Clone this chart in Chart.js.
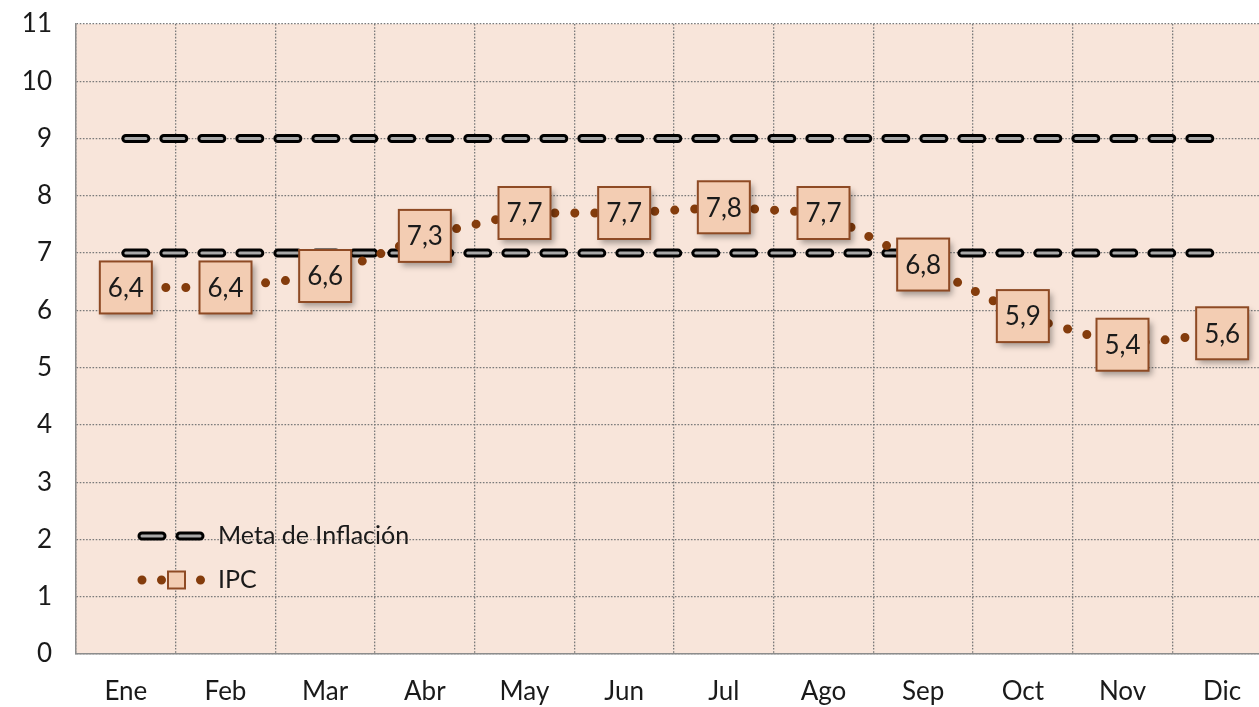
<!DOCTYPE html>
<html>
<head>
<meta charset="utf-8">
<script src="https://cdn.jsdelivr.net/npm/chart.js@4.4.1/dist/chart.umd.min.js"></script>
<style>
  html, body { margin: 0; padding: 0; background: #fff; overflow: hidden; }
  #wrap { width: 1272px; height: 707px; position: relative; }
</style>
</head>
<body>
<div id="wrap"><canvas id="line-chart"></canvas></div>
<script>
const meses = ['Ene','Feb','Mar','Abr','May','Jun','Jul','Ago','Sep','Oct','Nov','Dic'];
const ipc = [6.4, 6.4, 6.6, 7.3, 7.7, 7.7, 7.8, 7.7, 6.8, 5.9, 5.4, 5.6];
const metaInferior = [7, 7, 7, 7, 7, 7, 7, 7, 7, 7, 7, 7];
const metaSuperior = [9, 9, 9, 9, 9, 9, 9, 9, 9, 9, 9, 9];

const FONT = 'Lato, "Open Sans", sans-serif';
const BROWN = '#843C0C';
const INNER = '#a9a9a9';
const metaDash = [20, 18];

// fondo del area de trazado
const fondo = {
  id: 'fondo',
  beforeDraw(chart) {
    const {ctx, chartArea: a} = chart;
    ctx.save();
    ctx.fillStyle = '#F8E5DA';
    ctx.fillRect(a.left, a.top, a.right - a.left, a.bottom - a.top);
    ctx.restore();
  }
};

function caja(ctx, x, y, s) {
  ctx.save();
  ctx.shadowColor = 'rgba(0,0,0,0.35)';
  ctx.shadowBlur = 6;
  ctx.shadowOffsetX = 3;
  ctx.shadowOffsetY = 4;
  ctx.fillStyle = '#F3CDB3';
  ctx.fillRect(x - s / 2, y - s / 2, s, s);
  ctx.restore();
  ctx.save();
  ctx.strokeStyle = '#8E4A24';
  ctx.lineWidth = 2;
  ctx.strokeRect(x - s / 2, y - s / 2, s, s);
  ctx.restore();
}

// etiquetas en cajas + leyenda
const etiquetas = {
  id: 'etiquetas',
  afterDatasetsDraw(chart) {
    const {ctx, chartArea: a} = chart;
    const meta = chart.getDatasetMeta(0);
    meta.data.forEach((pt, i) => {
      caja(ctx, pt.x, pt.y, 52);
      ctx.save();
      ctx.fillStyle = '#1a1a1a';
      ctx.font = '26px ' + FONT;
      ctx.textAlign = 'center';
      ctx.textBaseline = 'middle';
      ctx.fillText(ipc[i].toFixed(1).replace('.', ','), pt.x, pt.y + 1);
      ctx.restore();
    });

    // leyenda
    const lx = a.left + 66, y1 = 536, y2 = 580;
    ctx.save();
    ctx.lineCap = 'round';
    ctx.setLineDash(metaDash);
    ctx.strokeStyle = '#000';
    ctx.lineWidth = 9;
    ctx.beginPath(); ctx.moveTo(lx, y1); ctx.lineTo(lx + 62, y1); ctx.stroke();
    ctx.strokeStyle = INNER;
    ctx.lineWidth = 3;
    ctx.beginPath(); ctx.moveTo(lx, y1); ctx.lineTo(lx + 62, y1); ctx.stroke();
    ctx.setLineDash([0, 19.5]);
    ctx.strokeStyle = BROWN;
    ctx.lineWidth = 9;
    ctx.beginPath(); ctx.moveTo(lx, y2); ctx.lineTo(lx + 60, y2); ctx.stroke();
    ctx.restore();
    ctx.save();
    ctx.fillStyle = '#F3CDB3';
    ctx.fillRect(lx + 26, y2 - 8.5, 17, 17);
    ctx.strokeStyle = '#8E4A24';
    ctx.lineWidth = 2;
    ctx.strokeRect(lx + 26, y2 - 8.5, 17, 17);
    ctx.fillStyle = '#1a1a1a';
    ctx.font = '25px ' + FONT;
    ctx.textBaseline = 'middle';
    ctx.fillText('Meta de Inflación', a.left + 142, y1);
    ctx.fillText('IPC', a.left + 142, y2);
    ctx.restore();
  }
};

new Chart(document.getElementById('line-chart'), {
  type: 'line',
  data: {
    labels: meses,
    datasets: [
      {
        label: 'IPC',
        data: ipc,
        borderColor: BROWN,
        borderWidth: 9,
        borderDash: [0, 20],
        borderCapStyle: 'round',
        pointRadius: 0,
        tension: 0,
        fill: false,
        order: 0
      },
      {
        label: 'Meta de Inflación',
        data: metaInferior,
        borderColor: INNER,
        borderWidth: 3,
        borderDash: metaDash,
        borderCapStyle: 'round',
        pointRadius: 0,
        fill: false,
        order: 1
      },
      {
        label: 'Meta de Inflación',
        data: metaSuperior,
        borderColor: INNER,
        borderWidth: 3,
        borderDash: metaDash,
        borderCapStyle: 'round',
        pointRadius: 0,
        fill: false,
        order: 1
      },
      {
        label: 'Meta de Inflación',
        data: metaInferior,
        borderColor: '#000',
        borderWidth: 9,
        borderDash: metaDash,
        borderCapStyle: 'round',
        pointRadius: 0,
        fill: false,
        order: 2
      },
      {
        label: 'Meta de Inflación',
        data: metaSuperior,
        borderColor: '#000',
        borderWidth: 9,
        borderDash: metaDash,
        borderCapStyle: 'round',
        pointRadius: 0,
        fill: false,
        order: 2
      }
    ]
  },
  options: {
    responsive: true,
    maintainAspectRatio: false,
    animation: false,
    layout: { padding: { top: 24, right: 0, left: 0, bottom: 0 } },
    scales: {
      x: {
        offset: true,
        grid: { offset: true, color: '#7a7a7a', lineWidth: 1.3, drawTicks: false },
        border: { color: '#8c8c8c', width: 1.5, dash: [1.6, 1.6] },
        ticks: { color: '#1a1a1a', font: { family: FONT, size: 26 }, padding: 22, maxRotation: 0 },
        afterFit(scale) {
          scale.height = 53;
          scale.paddingLeft = 0; scale.paddingRight = 0;
        }
      },
      y: {
        min: 0,
        max: 11,
        ticks: { stepSize: 1, color: '#1a1a1a', font: { family: FONT, size: 26 }, padding: 24 },
        grid: { color: '#7a7a7a', lineWidth: 1.3, drawTicks: false },
        border: { color: '#8c8c8c', width: 1.5, dash: [1.6, 1.6] },
        afterFit(scale) {
          scale.width = 76;
          scale.paddingTop = 0; scale.paddingBottom = 0;
        }
      }
    },
    plugins: {
      legend: { display: false },
      tooltip: { enabled: false }
    }
  },
  plugins: [fondo, etiquetas]
});
</script>
</body>
</html>
